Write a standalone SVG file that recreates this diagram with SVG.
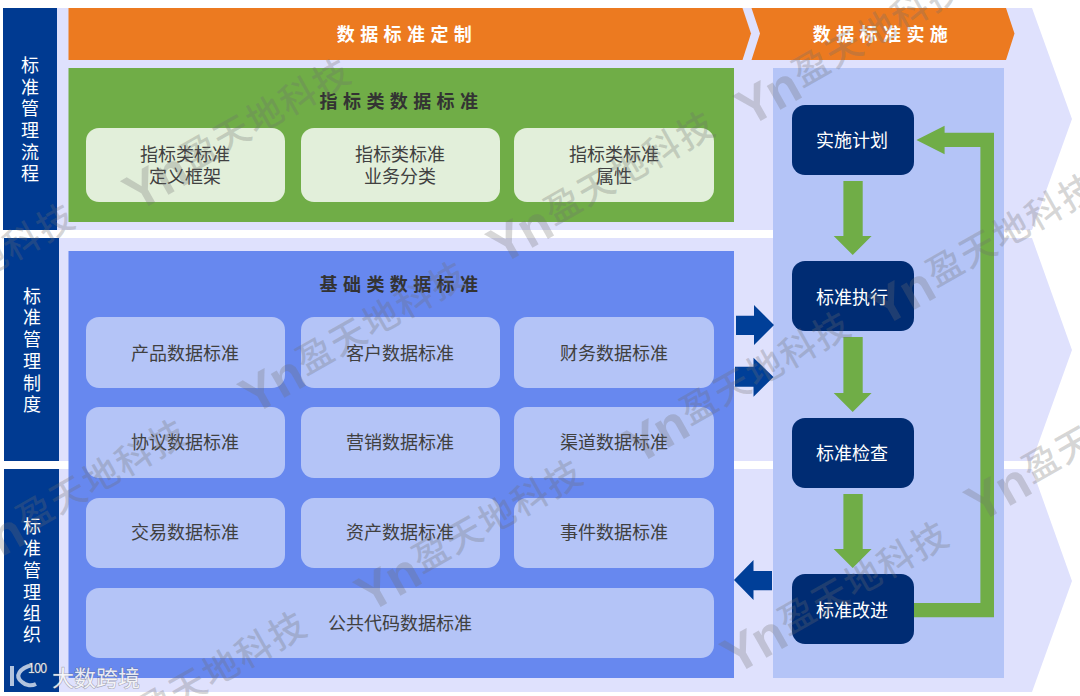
<svg xmlns="http://www.w3.org/2000/svg" width="1080" height="696" viewBox="0 0 1080 696">
<style>
text{font-family:"Noto Sans CJK SC","Liberation Sans",sans-serif;text-anchor:middle;dominant-baseline:central}
.chev{fill:#dfe1fd}
.bar{fill:#003a91}
.bar text,.node text{fill:#fff;font-size:18px}
.orange{fill:#ec7a20}
.hd{font-size:18px;font-weight:700;letter-spacing:5.4px}
.card{fill:#b4c4f7}
.gcard{fill:#e2efda}
.lbl{font-size:18px;fill:#404040}
.step{fill:#002c73}
.g{fill:#70ad47}
.b{fill:#003f98}
.wm text{font-size:36px;fill:#6f6f6f;fill-opacity:.28;letter-spacing:2px;text-anchor:start;font-weight:500}
.wm .y{font-family:"Liberation Sans",sans-serif;font-weight:700;font-size:52px;letter-spacing:-2px}
.brand{fill:#fff;fill-opacity:.85;stroke:#666;stroke-opacity:.45;stroke-width:1.2px;paint-order:stroke}
</style>
<rect width="1080" height="696" fill="#fff"/>
<g id="stage-backgrounds">
<polygon class="chev" points="55,8 1032,8 1072,119 1032,230 55,230"/>
<polygon class="chev" points="55,238 1032,238 1072,350 1032,461 55,461"/>
<polygon class="chev" points="55,469 1032,469 1072,581 1032,692 55,692"/>
</g>
<g id="bar-process" class="bar"><rect x="3" y="8" width="54" height="222"/>
<text x="30" y="64">标</text><text x="30" y="86">准</text><text x="30" y="107">管</text><text x="30" y="129">理</text><text x="30" y="151">流</text><text x="30" y="172">程</text></g>
<g id="bar-system" class="bar"><rect x="4" y="238" width="55" height="223"/>
<text x="32" y="295">标</text><text x="32" y="316">准</text><text x="32" y="338">管</text><text x="32" y="360">理</text><text x="32" y="382">制</text><text x="32" y="403">度</text></g>
<g id="bar-org" class="bar"><rect x="4" y="469" width="55" height="223"/>
<text x="32" y="525">标</text><text x="32" y="547">准</text><text x="32" y="569">管</text><text x="32" y="591">理</text><text x="32" y="612">组</text><text x="32" y="633">织</text></g>
<g id="header-define"><polygon class="orange" points="68.5,8 742.5,8 751,33.5 742.5,60 68.5,60"/>
<text class="hd" x="407" y="32.5" fill="#fff">数据标准定制</text></g>
<g id="header-implement"><polygon class="orange" points="751.5,8 1006,8 1014.5,33.5 1006,60 751.5,60 760,33.5"/>
<text class="hd" x="883" y="32.5" fill="#fff">数据标准实施</text></g>
<g id="panel-indicator"><rect x="68.5" y="68" width="665.5" height="154" fill="#70ad47"/>
<text class="hd" x="401.5" y="100" fill="#333">指标类数据标准</text></g>
<g id="card-i1"><rect class="gcard" x="86" y="128" width="199" height="74" rx="13"/><text class="lbl" x="185" y="153">指标类标准</text><text class="lbl" x="185" y="175">定义框架</text></g>
<g id="card-i2"><rect class="gcard" x="301" y="128" width="199" height="74" rx="13"/><text class="lbl" x="400" y="153">指标类标准</text><text class="lbl" x="400" y="175">业务分类</text></g>
<g id="card-i3"><rect class="gcard" x="514" y="128" width="200" height="74" rx="13"/><text class="lbl" x="614" y="153">指标类标准</text><text class="lbl" x="614" y="175">属性</text></g>
<g id="panel-basic"><rect x="68.5" y="251" width="665.5" height="427" fill="#6788ef"/>
<text class="hd" x="401.5" y="283" fill="#333">基础类数据标准</text></g>
<g id="card-b1"><rect class="card" x="86" y="317" width="199" height="71" rx="13"/><text class="lbl" x="185" y="352">产品数据标准</text></g>
<g id="card-b2"><rect class="card" x="301" y="317" width="199" height="71" rx="13"/><text class="lbl" x="400" y="352">客户数据标准</text></g>
<g id="card-b3"><rect class="card" x="514" y="317" width="200" height="71" rx="13"/><text class="lbl" x="614" y="352">财务数据标准</text></g>
<g id="card-b4"><rect class="card" x="86" y="407" width="199" height="71" rx="13"/><text class="lbl" x="185" y="441">协议数据标准</text></g>
<g id="card-b5"><rect class="card" x="301" y="407" width="199" height="71" rx="13"/><text class="lbl" x="400" y="441">营销数据标准</text></g>
<g id="card-b6"><rect class="card" x="514" y="407" width="200" height="71" rx="13"/><text class="lbl" x="614" y="441">渠道数据标准</text></g>
<g id="card-b7"><rect class="card" x="86" y="498" width="199" height="70" rx="13"/><text class="lbl" x="185" y="531">交易数据标准</text></g>
<g id="card-b8"><rect class="card" x="301" y="498" width="199" height="70" rx="13"/><text class="lbl" x="400" y="531">资产数据标准</text></g>
<g id="card-b9"><rect class="card" x="514" y="498" width="200" height="70" rx="13"/><text class="lbl" x="614" y="531">事件数据标准</text></g>
<g id="card-b10"><rect class="card" x="86" y="588" width="628" height="70" rx="13"/><text class="lbl" x="400" y="622">公共代码数据标准</text></g>
<g id="panel-implement"><rect x="773" y="68" width="231" height="610" fill="#b4c4f7"/></g>
<g id="connectors">
<polygon class="g" points="843.4,181 862.7,181 862.7,236 871.6,236 852.7,255 833.7,236 843.4,236"/>
<polygon class="g" points="843.4,337 862.7,337 862.7,393 871.6,393 852.7,412 833.7,393 843.4,393"/>
<polygon class="g" points="843.4,494 862.7,494 862.7,549 871.6,549 852.7,568 833.7,549 843.4,549"/>
<polygon class="g" points="914,603 980.4,603 980.4,147 944.6,147 944.6,154.3 916.4,140 944.6,125.7 944.6,132.7 994,132.7 994,617.3 914,617.3"/>
<polygon class="b" points="736,315.7 754,315.7 754,305 774,325 754,345 754,335 736,335"/>
<polygon class="b" points="735,366.7 753.5,366.7 753.5,357.7 773.5,377 753.5,396.7 753.5,386.7 735,386.7"/>
<polygon class="b" points="772,571 753.5,571 753.5,560 734,580 753.5,600 753.5,590.3 772,590.3"/>
</g>
<g id="step-plan"><rect class="step" x="792" y="105" width="122" height="70" rx="13"/></g>
<g id="step-exec"><rect class="step" x="792" y="261" width="122" height="70" rx="13"/></g>
<g id="step-check"><rect class="step" x="792" y="418" width="122" height="70" rx="13"/></g>
<g id="step-improve"><rect class="step" x="792" y="574" width="122" height="70" rx="13"/></g>
<g class="node"><text x="852" y="138.5">实施计划</text><text x="852" y="295.5">标准执行</text><text x="852" y="451.5">标准检查</text><text x="852" y="608.5">标准改进</text></g>
<g id="watermarks" class="wm">
<text transform="translate(128,197) rotate(-29.5)"><tspan class="y">Yn</tspan><tspan dx="3" dy="-7">盈天地科技</tspan></text>
<text transform="translate(492,250) rotate(-29.5)"><tspan class="y">Yn</tspan><tspan dx="3" dy="-7">盈天地科技</tspan></text>
<text transform="translate(740,112) rotate(-29.5)"><tspan class="y">Yn</tspan><tspan dx="3" dy="-7">盈天地科技</tspan></text>
<text transform="translate(874,312) rotate(-29.5)"><tspan class="y">Yn</tspan><tspan dx="3" dy="-7">盈天地科技</tspan></text>
<text transform="translate(-148,342) rotate(-29.5)"><tspan class="y">Yn</tspan><tspan dx="3" dy="-7">盈天地科技</tspan></text>
<text transform="translate(244,400) rotate(-29.5)"><tspan class="y">Yn</tspan><tspan dx="3" dy="-7">盈天地科技</tspan></text>
<text transform="translate(628,450) rotate(-29.5)"><tspan class="y">Yn</tspan><tspan dx="3" dy="-7">盈天地科技</tspan></text>
<text transform="translate(-36,558) rotate(-29.5)"><tspan class="y">Yn</tspan><tspan dx="3" dy="-7">盈天地科技</tspan></text>
<text transform="translate(360,598) rotate(-29.5)"><tspan class="y">Yn</tspan><tspan dx="3" dy="-7">盈天地科技</tspan></text>
<text transform="translate(726,660) rotate(-29.5)"><tspan class="y">Yn</tspan><tspan dx="3" dy="-7">盈天地科技</tspan></text>
<text transform="translate(970,508) rotate(-29.5)"><tspan class="y">Yn</tspan><tspan dx="3" dy="-7">盈天地科技</tspan></text>
<text transform="translate(84,750) rotate(-29.5)"><tspan class="y">Yn</tspan><tspan dx="3" dy="-7">盈天地科技</tspan></text>
</g>
<g id="brand">
<path d="M12,666 V686 M32,665 C20,668 14,676 22,682 C26,686 32,686 36,684" fill="none" stroke="#fff" stroke-opacity=".7" stroke-width="4"/>
<text class="brand" x="37" y="667" font-size="13" letter-spacing="-1">100</text>
<text class="brand" x="96" y="676" font-size="22">大数跨境</text>
</g>
</svg>
